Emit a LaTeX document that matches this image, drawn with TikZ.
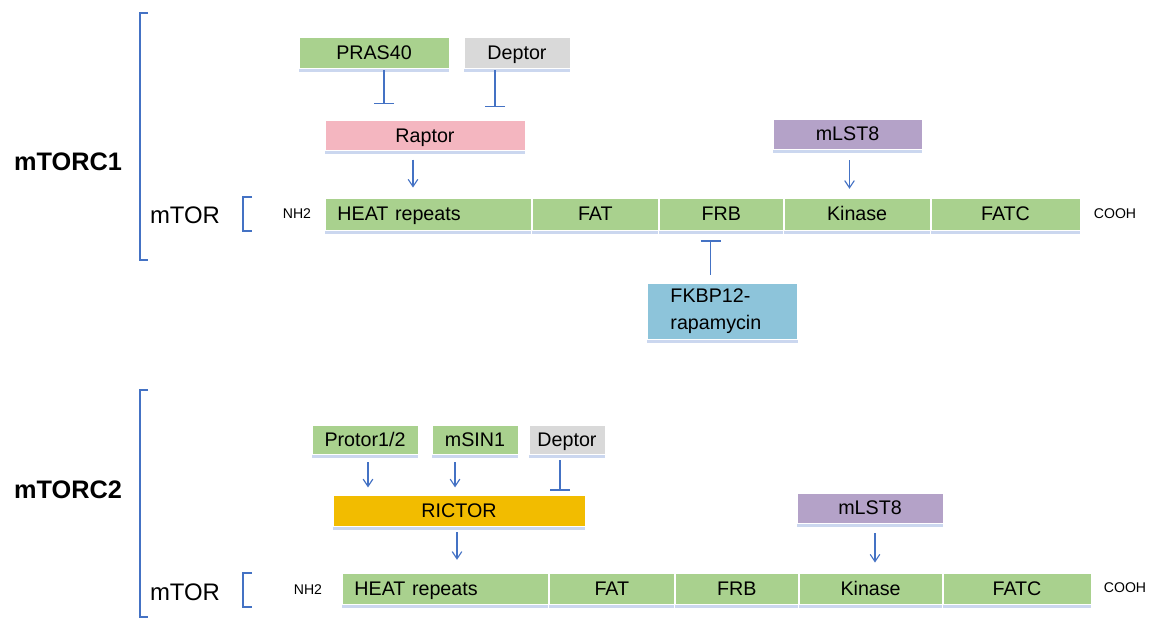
\documentclass[tikz,border=0pt]{standalone}
\usepackage{fontspec}
\setmainfont{Liberation Sans}
\usetikzlibrary{arrows.meta,calc,positioning,shadows}
\definecolor{greenF}{HTML}{A9D18E}
\definecolor{greyF}{HTML}{D9D9D9}
\definecolor{pinkF}{HTML}{F4B6C0}
\definecolor{purpF}{HTML}{B4A2C8}
\definecolor{blueF}{HTML}{8DC4DA}
\definecolor{goldF}{HTML}{F2BC00}
\definecolor{lineC}{HTML}{4472C4}
\definecolor{shadC}{HTML}{A8BCE4}
\tikzset{
  base/.style={draw=white, line width=0.6pt, font=\fontsize{14}{19}\selectfont, inner sep=2pt,
              minimum height=0.775cm,
              drop shadow={shadow xshift=0pt, shadow yshift=-2.5pt, fill=shadC, opacity=0.6}},
  box/.style={base, text height=10pt, text depth=0.5pt},
  green/.style={box, fill=greenF},
  grey/.style={box, fill=greyF},
  pink/.style={box, fill=pinkF},
  purp/.style={box, fill=purpF},
  gold/.style={box, fill=goldF},
  dom/.style={green, minimum height=0.8cm},
  heat/.style={dom, text width=4.55cm, inner xsep=0.3cm, align=left},
  cplx/.style={font=\fontsize{18}{20}\selectfont\bfseries},
  lbl/.style={font=\fontsize{17}{19}\selectfont},
  term/.style={font=\fontsize{10}{12}\selectfont},
  arr/.style={-{Straight Barb[length=1.8mm,width=2.4mm]}, draw=lineC, line width=0.8pt},
  inh/.style={-{Bar[width=5mm]}, draw=lineC, line width=0.8pt},
  brk/.style={draw=lineC, line width=1pt},
}
\begin{document}
\begin{tikzpicture}[x=0.025cm,y=-0.025cm]
\useasboundingbox (0,0) rectangle (1149,620);
% mTORC1
\node[cplx] (c1) at (68,162) {mTORC1};
\draw[brk] (148,13) -- (140,13) -- (140,260) -- (148,260);
\node[lbl] (mtor1) at (185,215) {mTOR};
\draw[brk] (252,197) -- (243,197) -- (243,231) -- (252,231);
\node[term] (nh1) at (297,214) {NH2};
\node[heat, anchor=west] (heat1) at (325,214) {HEAT repeats};
\node[dom, minimum width=3.15cm, right=0pt of heat1] (fat1) {FAT};
\node[dom, minimum width=3.1cm, right=0pt of fat1] (frb1) {FRB};
\node[dom, minimum width=3.65cm, right=0pt of frb1] (kin1) {Kinase};
\node[dom, minimum width=3.725cm, right=0pt of kin1] (fatc1) {FATC};
\node[term] (cooh1) at (1115,214) {COOH};
\node[green, minimum width=3.75cm] (pras) at (374,52.5) {PRAS40};
\node[grey, minimum width=2.65cm] (dep1) at (517,52.5) {Deptor};
\node[pink, minimum width=5cm, minimum height=0.75cm] (raptor) at (425,135.5) {Raptor};
\node[purp, minimum width=3.725cm, minimum height=0.75cm] (mlst1) at (847.5,134) {mLST8};
\node[base, fill=blueF, text width=2.6cm, inner xsep=0.58cm, minimum height=1.4cm, align=left] (fkbp) at (722.5,311) {FKBP12-\\rapamycin};
\draw[inh, shorten <=0.05cm, shorten >=0.4cm] ($(pras.south)+(10,0)$) -- ($(pras.south |- raptor.north)+(10,0)$);
\draw[inh, shorten <=0.05cm, shorten >=0.33cm] ($(dep1.south)+(-22,0)$) -- ($(dep1.south |- raptor.north)+(-22,0)$);
\draw[arr, shorten <=0.22cm, shorten >=0.25cm] ($(raptor.south)+(-12,0)$) -- ($(raptor.south |- heat1.north)+(-12,0)$);
\draw[arr, shorten <=0.27cm, shorten >=0.22cm] ($(mlst1.south)+(2,0)$) -- ($(mlst1.south |- kin1.north)+(2,0)$);
\draw[inh, shorten <=0.2cm, shorten >=0.25cm] ($(fkbp.north)+(-12,0)$) -- ($(fkbp.north |- frb1.south)+(-12,0)$);
% mTORC2
\node[cplx] (c2) at (68,490) {mTORC2};
\draw[brk] (148,390) -- (140,390) -- (140,617) -- (148,617);
\node[lbl] (mtor2) at (185,592) {mTOR};
\draw[brk] (252,573) -- (243,573) -- (243,607) -- (252,607);
\node[term] (nh2) at (308,590) {NH2};
\node[heat, anchor=west, minimum height=0.775cm] (heat2) at (342,588.5) {HEAT repeats};
\node[dom, minimum width=3.125cm, minimum height=0.775cm, right=0pt of heat2] (fat2) {FAT};
\node[dom, minimum width=3.075cm, minimum height=0.775cm, right=0pt of fat2] (frb2) {FRB};
\node[dom, minimum width=3.575cm, minimum height=0.775cm, right=0pt of frb2] (kin2) {Kinase};
\node[dom, minimum width=3.7cm, minimum height=0.775cm, right=0pt of kin2] (fatc2) {FATC};
\node[term] (cooh2) at (1125,588) {COOH};
\node[green, minimum width=2.65cm, minimum height=0.725cm] (protor) at (365,439.5) {Protor1/2};
\node[green, minimum width=2.15cm, minimum height=0.725cm] (msin) at (475,439.5) {mSIN1};
\node[grey, minimum width=1.9cm, minimum height=0.725cm] (dep2) at (567,439.5) {Deptor};
\node[gold, minimum width=6.3cm] (rictor) at (459,510.5) {RICTOR};
\node[purp, minimum width=3.65cm, minimum height=0.75cm] (mlst2) at (870,508) {mLST8};
\draw[arr, shorten <=0.2cm, shorten >=0.18cm] ($(protor.south)+(3,0)$) -- ($(protor.south |- rictor.north)+(3,0)$);
\draw[arr, shorten <=0.2cm, shorten >=0.18cm] ($(msin.south)+(-20,0)$) -- ($(msin.south |- rictor.north)+(-20,0)$);
\draw[inh, shorten <=0.15cm, shorten >=0.1cm] ($(dep2.south)+(-7,0)$) -- ($(dep2.south |- rictor.north)+(-7,0)$);
\draw[arr, shorten <=0.15cm, shorten >=0.32cm] ($(rictor.south)+(-2,0)$) -- ($(rictor.south |- heat2.north)+(-2,0)$);
\draw[arr, shorten <=0.25cm, shorten >=0.25cm] ($(mlst2.south)+(5,0)$) -- ($(mlst2.south |- kin2.north)+(5,0)$);
\end{tikzpicture}
\end{document}
